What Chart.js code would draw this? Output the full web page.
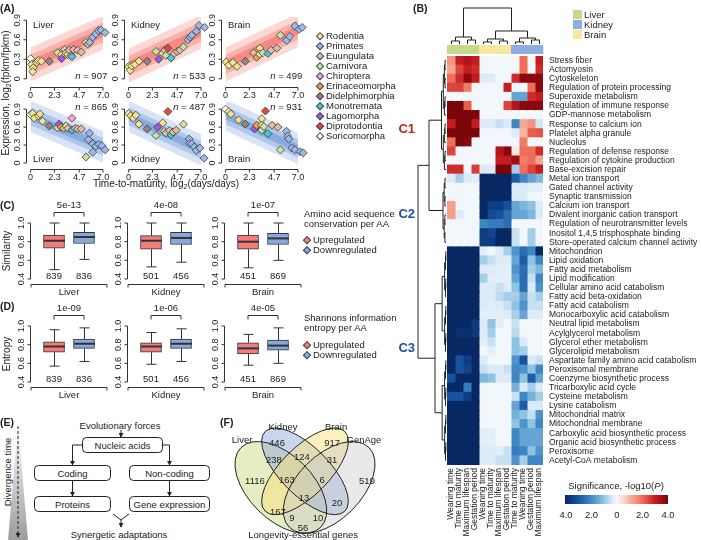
<!DOCTYPE html>
<html>
<head>
<meta charset="utf-8">
<script src="https://cdn.jsdelivr.net/npm/chart.js@4.4.1/dist/chart.umd.min.js"></script>
<style>
  body { margin: 0; width: 701px; height: 540px; position: relative; overflow: hidden; background: #fff;
         font-family: "Liberation Sans", Arial, Helvetica, sans-serif; color: #222; }
  canvas { position: absolute; }
  .t { position: absolute; white-space: nowrap; line-height: 1; font-size: 9.5px; }
  .t sub { font-size: 70%; vertical-align: -2px; line-height: 0; }
  .pl { font-weight: bold; font-size: 10.5px; }
  .dia { position: absolute; width: 3.8px; height: 3.8px; border: 1px solid #444; transform: translate(-50%, -50%) rotate(45deg); }
  svg text { font-family: "Liberation Sans", Arial, Helvetica, sans-serif; font-size: 9.5px; fill: #222; }
</style>
</head>
<body>
<svg style="position:absolute;left:0;top:0" width="216" height="540">
  <defs>
    <linearGradient id="dg" x1="0" y1="0" x2="0" y2="1">
      <stop offset="0" stop-color="#ffffff"/><stop offset="1" stop-color="#9c9c9c"/>
    </linearGradient>
    <marker id="ah" viewBox="0 0 6 6" refX="5" refY="3" markerWidth="5" markerHeight="5" orient="auto">
      <path d="M0,0L6,3L0,6z" fill="#222"/>
    </marker>
  </defs>
  <polygon points="18,424 8,540 28,540" fill="url(#dg)"/>
  <line x1="18" y1="426" x2="18" y2="537" stroke="#222" stroke-width="1" stroke-dasharray="3,2" marker-end="url(#ah)"/>
  <text x="7" y="472" transform="rotate(-90 7 472)" text-anchor="middle" dominant-baseline="central">Divergence time</text>
  <g stroke="#222" stroke-width="1" fill="none">
    <line x1="121" y1="430" x2="121" y2="437" marker-end="url(#ah)"/>
    <rect x="82.5" y="437.5" width="80" height="15" rx="4" fill="#fff"/>
    <polyline points="82,445 72.5,445 72.5,465" marker-end="url(#ah)"/>
    <polyline points="163,445 169.5,445 169.5,465" marker-end="url(#ah)"/>
    <rect x="34.5" y="465.5" width="76" height="15" rx="4" fill="#fff"/>
    <rect x="129.5" y="465.5" width="80" height="15" rx="4" fill="#fff"/>
    <line x1="72.5" y1="481" x2="72.5" y2="496" marker-end="url(#ah)"/>
    <line x1="169.5" y1="481" x2="169.5" y2="496" marker-end="url(#ah)"/>
    <rect x="34.5" y="496.5" width="76" height="15" rx="4" fill="#fff"/>
    <rect x="129.5" y="496.5" width="80" height="15" rx="4" fill="#fff"/>
    <polyline points="113,514 121,520 129,514"/>
    <line x1="121" y1="520" x2="121" y2="527" marker-end="url(#ah)"/>
  </g>
  <g text-anchor="middle" dominant-baseline="central">
    <text x="120" y="425">Evolutionary forces</text>
    <text x="122.5" y="445">Nucleic acids</text>
    <text x="72.5" y="473">Coding</text>
    <text x="169.5" y="473">Non-coding</text>
    <text x="72.5" y="504">Proteins</text>
    <text x="169.5" y="504">Gene expression</text>
    <text x="119" y="534">Synergetic adaptations</text>
  </g>
</svg>
<script>
// ---------- data ----------
var speciesGroups = ['Rodentia', 'Primates', 'Euungulata', 'Carnivora', 'Chiroptera', 'Erinaceomorpha',
  'Didelphimorphia', 'Monotremata', 'Lagomorpha', 'Diprotodontia', 'Soricomorpha'];
var groupColors = ['#f3e48e', '#9db8ea', '#dcbca4', '#c8e2a2', '#f2a6cf', '#f29a4a',
  '#958585', '#45c6e2', '#a457e6', '#e04848', '#ffffff'];

var timeTicks = [0, 2.3, 4.7, 7.0];
var timeTickLabels = ['0', '2.3', '4.7', '7.0'];
var exprTicks = [0, 0.3, 0.6, 0.9];
var exprTickLabels = ['0', '0.3', '0.6', '0.9'];

var liverUpX = [0, 0.1, 0.25, 0.2, 0.6, 0.75, 1.05, 1.8, 2.6, 3.0, 3.0, 3.3, 3.4, 3.6, 3.75, 3.9, 4.0, 4.15, 4.55, 4.9, 5.35, 5.55, 5.7, 6.0, 6.3, 6.55, 6.8, 7.2];
var liverUpY = [0.31, 0.22, 0.17, 0.11, 0.25, 0.28, 0.27, 0.27, 0.40, 0.37, 0.31, 0.45, 0.40, 0.37, 0.44, 0.36, 0.34, 0.45, 0.44, 0.41, 0.56, 0.53, 0.56, 0.64, 0.69, 0.74, 0.75, 0.71];
var liverUpG = [10, 0, 0, 0, 0, 0, 0, 6, 3, 0, 8, 3, 2, 0, 2, 5, 7, 4, 2, 2, 3, 2, 1, 1, 1, 1, 1, 1];

var kidneyUpX = [0, 0.15, 0.3, 0.6, 1.0, 1.8, 2.65, 2.9, 3.3, 3.5, 3.8, 3.6, 4.1, 4.4, 4.7, 4.95, 5.3, 5.75, 5.95, 6.1, 6.55, 6.8, 7.35];
var kidneyUpY = [0.19, 0.13, 0.20, 0.22, 0.27, 0.27, 0.42, 0.30, 0.39, 0.44, 0.47, 0.36, 0.32, 0.39, 0.42, 0.44, 0.49, 0.60, 0.64, 0.67, 0.73, 0.82, 0.79];
var kidneyUpG = [0, 0, 0, 0, 0, 6, 3, 8, 0, 2, 9, 3, 7, 2, 2, 2, 3, 1, 1, 1, 1, 1, 1];

var brainUpX = [0.05, 0.3, 0.7, 1.1, 1.9, 2.7, 3.0, 3.3, 3.3, 3.6, 4.1, 4.4, 4.95, 5.3, 5.9, 6.2, 6.7, 7.1, 7.4];
var brainUpY = [0.26, 0.21, 0.25, 0.19, 0.27, 0.40, 0.33, 0.47, 0.38, 0.40, 0.39, 0.44, 0.47, 0.67, 0.59, 0.65, 0.81, 0.76, 0.79];
var brainUpG = [0, 0, 0, 0, 6, 2, 5, 0, 0, 3, 7, 2, 2, 3, 1, 1, 1, 1, 1];

var liverDownX = [0, 0.2, 0.35, 0.75, 0.9, 1.15, 1.8, 2.6, 2.75, 2.95, 3.2, 3.45, 3.6, 4.0, 4.0, 4.3, 4.55, 4.9, 5.35, 5.6, 5.7, 6.0, 6.0, 6.3, 6.6, 6.9, 7.2];
var liverDownY = [0.81, 0.83, 0.75, 0.79, 0.82, 0.70, 0.62, 0.59, 0.65, 0.60, 0.58, 0.62, 0.58, 0.75, 0.55, 0.58, 0.57, 0.57, 0.10, 0.39, 0.50, 0.32, 0.18, 0.28, 0.31, 0.29, 0.22];
var liverDownG = [10, 0, 0, 0, 0, 0, 6, 3, 8, 5, 2, 0, 2, 4, 7, 2, 2, 2, 3, 1, 1, 1, 1, 1, 1, 1, 1];

var kidneyDownX = [0, 0.2, 0.45, 0.7, 1.0, 1.8, 2.65, 2.8, 3.3, 3.45, 3.6, 3.8, 3.95, 4.1, 4.3, 4.6, 5.3, 5.85, 5.9, 6.1, 6.35, 6.55, 6.9, 7.3];
var kidneyDownY = [0.83, 0.79, 0.75, 0.80, 0.65, 0.57, 0.46, 0.60, 0.67, 0.53, 0.50, 0.86, 0.54, 0.47, 0.52, 0.55, 0.65, 0.40, 0.33, 0.32, 0.27, 0.21, 0.25, 0.08];
var kidneyDownG = [0, 0, 0, 0, 0, 6, 3, 8, 0, 3, 2, 9, 2, 7, 2, 2, 3, 1, 1, 1, 1, 1, 1, 1];

var brainDownX = [0, 0.3, 0.5, 1.25, 1.9, 2.8, 3.0, 3.5, 3.5, 3.5, 3.85, 3.7, 4.1, 4.5, 5.05, 5.3, 5.9, 6.0, 6.1, 6.4, 6.7, 7.2, 7.5];
var brainDownY = [0.90, 0.86, 0.82, 0.72, 0.65, 0.57, 0.63, 0.74, 0.63, 0.55, 0.87, 0.61, 0.49, 0.63, 0.60, 0.22, 0.53, 0.45, 0.40, 0.25, 0.22, 0.19, 0.17];
var brainDownG = [10, 0, 0, 0, 6, 8, 5, 0, 0, 3, 9, 3, 7, 2, 2, 3, 1, 1, 1, 1, 1, 1, 1];

var panelTissues = ['Liver', 'Kidney', 'Brain', 'Liver', 'Kidney', 'Brain'];
var nGenes = [907, 533, 499, 865, 487, 931];
var trendStart = [0.22, 0.20, 0.22, 0.78, 0.78, 0.80];
var trendEnd = [0.71, 0.72, 0.75, 0.27, 0.22, 0.24];

// boxplots: [min, q1, median, q3, max] for Liver, Kidney, Brain
var tissues = ['Liver', 'Kidney', 'Brain'];
var simUp = [[0.50, 0.73, 0.81, 0.87, 1.0], [0.53, 0.72, 0.81, 0.865, 1.0], [0.52, 0.72, 0.80, 0.87, 1.0]];
var simDown = [[0.61, 0.78, 0.85, 0.90, 1.0], [0.58, 0.77, 0.84, 0.90, 1.0], [0.60, 0.77, 0.835, 0.89, 1.0]];
var entUp = [[0.57, 0.72, 0.78, 0.83, 0.96], [0.59, 0.72, 0.78, 0.82, 0.93], [0.58, 0.70, 0.76, 0.82, 0.91]];
var entDown = [[0.62, 0.76, 0.81, 0.86, 0.98], [0.62, 0.76, 0.81, 0.86, 0.97], [0.60, 0.74, 0.79, 0.85, 0.98]];
var upCounts = [839, 501, 451];
var downCounts = [836, 456, 869];
var simP = ['5e-13', '4e-08', '1e-07'];
var entP = ['1e-09', '1e-06', '4e-05'];
var boxTicks = [0.4, 0.6, 0.8, 1.0];
var boxTickLabels = ['0.4', '0.6', '0.8', '1.0'];

// heatmap
var traitLabels = ['Weaning time', 'Time to maturity', 'Maximum lifespan', 'Gestation period',
  'Weaning time', 'Time to maturity', 'Maximum lifespan', 'Gestation period',
  'Time to maturity', 'Weaning time', 'Gestation period', 'Maximum lifespan'];
var traitTissue = ['Liver', 'Liver', 'Liver', 'Liver', 'Brain', 'Brain', 'Brain', 'Brain', 'Kidney', 'Kidney', 'Kidney', 'Kidney'];
var termLabels = ['Stress fiber', 'Actomyosin', 'Cytoskeleton', 'Regulation of protein processing', 'Superoxide metabolism',
  'Regulation of immune response', 'GDP-mannose metabolism', 'Response to calcium ion', 'Platelet alpha granule', 'Nucleolus',
  'Regulation of defense response', 'Regulation of cytokine production', 'Base-excision repair',
  'Metal ion transport', 'Gated channel activity', 'Synaptic transmission', 'Calcium ion transport',
  'Divalent inorganic cation transport', 'Regulation of neurotransmitter levels', 'Inositol 1,4,5 trisphosphate binding',
  'Store-operated calcium channel activity',
  'Mitochondrion', 'Lipid oxidation', 'Fatty acid metabolism', 'Lipid modification', 'Cellular amino acid catabolism',
  'Fatty acid beta-oxidation', 'Fatty acid catabolism', 'Monocarboxylic acid catabolism', 'Neutral lipid metabolism',
  'Acylglycerol metabolism', 'Glycerol ether metabolism', 'Glycerolipid metabolism', 'Aspartate family amino acid catabolism',
  'Peroxisomal membrane', 'Coenzyme biosynthetic process', 'Tricarboxylic acid cycle', 'Cysteine metabolism',
  'Lysine catabolism', 'Mitochondrial matrix', 'Mitochondrial membrane', 'Carboxylic acid biosynthetic process',
  'Organic acid biosynthetic process', 'Peroxisome', 'Acetyl-CoA metabolism'];
var significance = [
  [1.5, 3, 3.3, 3, 0, 0, 0, 0, 0, 2, 0, 3],
  [1.2, 2.5, 3, 2.8, 0, 0, 0, 0, 0, 2, 0, 2.8],
  [2, 2.8, 3.8, 3, -0.3, -0.3, 0, 0, 2.8, 3.8, 3.8, 3.8],
  [2.5, 2.5, 1.8, 0, 0, 0, 0, 3, 0, 0, 2, 3.8],
  [0, 0, 0, 0, 0, 0, 0, 0, -1.5, -1.5, 2.8, 3],
  [4, 4, 2.2, 0, 0, 0, 0, 2.5, 3.2, 3.8, 3.8, 3.8],
  [4, 4, 4, 4, 0, 0, 0, 0, 0, 0, 0, 0],
  [3, 4, 4, 3, -0.3, -0.3, -0.5, -0.3, -2, 1.2, 1.5, -0.4],
  [4, 4, 4, 4, 0, 0, 0, 0, -0.3, 1, 2.2, 2.3],
  [2, 4, 3.8, 0, 0, 0, 0, 0, 0, 1.8, 0, 0],
  [2.5, 0, 0, 0, 0, 0, 3.2, 3.8, 0.3, 2, 2, 2.8],
  [0, 0, 0, 0, 0, 0, 3, 3, 3.5, 1.8, 2, 1.2],
  [2.8, 2.8, 0, 2.6, -0.3, -0.3, 4, 4, -0.8, 2, 2.5, 3],
  [-0.3, -0.8, -0.3, -0.2, -4, -4, -4, -4, -2.8, -2, -1.5, -1.2],
  [0, 0, 0, 0, -4, -4, -4, -4, -0.3, -0.3, -0.2, -0.2],
  [0, 0, 0, 0, -4, -4, -4, -4, -0.3, -0.3, 0, 0],
  [1.3, 0, 0, 0, -4, -3.5, -3.5, -3, -1.5, -1.2, -1, -0.3],
  [1.3, -0.3, 0, 0, -4, -3.2, -3, -2.5, -1.5, -1.5, -1.2, -0.3],
  [0, 0, 0, 0, -2, -2.2, -2.2, -2.5, 0, 0, 0, 0],
  [0, 0, 0, 0, -3.5, -3.3, -4, -4, -0.5, 0, -0.8, 0],
  [0, 0, 0, 0, -3.5, -3.5, -4, -4, -0.5, 0, -0.8, 0],
  [-4, -4, -4, -4, -0.2, 0, -0.3, -0.8, -1.8, -2.5, -2, -4],
  [-4, -4, -4, -4, -0.8, -0.5, -0.3, -0.3, -1.5, -2.8, -1, -2],
  [-4, -4, -4, -4, -0.3, -0.3, -0.2, -0.2, -1.8, -2.5, -0.8, -1.2],
  [-4, -4, -4, -4, -0.8, -0.2, -0.2, -0.2, -1.5, -2.5, -0.5, -2],
  [-4, -4, -4, -4, -0.3, -0.3, -0.5, -0.3, -1, -2.5, -0.3, -1.8],
  [-4, -4, -4, -4, -0.3, -0.3, -0.6, -0.8, -0.8, -1.5, -0.5, -0.8],
  [-4, -4, -4, -4, -0.3, -0.2, -0.3, -0.5, -1, -1.8, -0.5, -0.5],
  [-4, -4, -4, -4, -0.2, -0.2, -0.2, -0.3, -0.8, -1.5, -0.3, -0.3],
  [-4, -4, -4, -3.6, -0.3, -1, -0.2, 0, -0.5, 0, 0, 0],
  [-4, -3.8, -3.8, -3.6, -0.3, -0.8, 0, 0, -0.6, 0, 0, 0],
  [-4, -4, -4, -4, -0.2, -0.5, 0, 0, -1, -0.3, 0, 0],
  [-4, -4, -4, -4, 0, -0.2, 0, 0, -1, -0.8, 0, 0],
  [-4, -3, -3.5, -4, -0.3, 0, 0, 0, -1.8, -3, -0.3, -0.5],
  [-4, -3, -3.3, -4, -0.5, -0.3, -0.3, -0.5, -2, -1.8, -1, -2],
  [-3, -4, -4, -4, -1.2, -1, -0.3, -0.3, -2, -1, -2.8, -1.5],
  [-4, -4, -2.2, -4, 0, 0, 0, 0, -1.3, -0.3, -0.8, -0.3],
  [-3, -3, -3.5, -4, 0, 0, 0, 0, -0.5, -2, -1.3, -0.8],
  [-4, -4, -4, -4, 0, 0, 0, 0, -1.5, -2.8, -0.3, -0.3],
  [-4, -4, -4, -4, 0, 0, 0, 0, -1.3, -1, -0.5, -1.8],
  [-4, -4, -4, -4, 0, 0, 0, 0, -1, -1.8, -1, -2],
  [-4, -4, -4, -4, -0.2, -0.2, 0, 0, -2, -1.5, -1.5, -1.5],
  [-4, -4, -4, -4, -0.2, -0.2, 0, 0, -2, -1.5, -1.5, -1.5],
  [-4, -4, -4, -4, -0.3, -0.3, -0.2, -0.5, -2.2, -2, -1, -1.8],
  [-4, -4, -4, -4, -0.3, -0.3, -0.5, -0.5, -1.8, -0.8, -2, -2]
];
var clusterNames = ['C1', 'C2', 'C3'];
var clusterSizes = [13, 8, 24];

// venn
var vennSets = ['Liver', 'Kidney', 'Brain', 'GenAge'];
var vennCounts = [446, 917, 238, 124, 31, 1116, 163, 6, 519, 13, 20, 167, 9, 10, 56];

// ---------- styles / layout ----------
var FONT = '"Liberation Sans", Arial, Helvetica, sans-serif';
Chart.defaults.font.family = FONT;
Chart.defaults.color = '#222';

var tissueColors = { Liver: '#c6d98a', Kidney: '#8eaee0', Brain: '#f6e6a0' };
var upColor = '#f27c7c', downColor = '#86a8dc';
var sigStops = [
  [-4, [8, 40, 100]], [-3, [22, 82, 158]], [-2, [62, 135, 196]], [-1, [142, 195, 226]],
  [-0.4, [212, 231, 245]], [0, [242, 247, 251]], [0.4, [250, 226, 219]], [1, [247, 181, 163]],
  [2, [238, 110, 88]], [3, [196, 28, 32]], [4, [122, 6, 10]]
];
function sigColor(v) {
  v = Math.max(-4, Math.min(4, v));
  for (var i = 1; i < sigStops.length; i++) {
    if (v <= sigStops[i][0]) {
      var a = sigStops[i - 1], b = sigStops[i], t = (v - a[0]) / (b[0] - a[0]);
      return 'rgb(' + [0, 1, 2].map(function (k) { return Math.round(a[1][k] + t * (b[1][k] - a[1][k])); }).join(',') + ')';
    }
  }
  return 'rgb(122,6,10)';
}

function makeCanvas(area, m) {
  var c = document.createElement('canvas');
  var w = area.r - area.l + m[0] + m[2], h = area.b - area.t + m[1] + m[3];
  c.width = w; c.height = h;
  c.style.left = (area.l - m[0]) + 'px'; c.style.top = (area.t - m[1]) + 'px';
  c.style.width = w + 'px'; c.style.height = h + 'px';
  document.body.appendChild(c);
  return c;
}
function baseOptions(m) {
  return {
    responsive: false, animation: false, devicePixelRatio: 1, events: [],
    layout: { padding: { left: m[0], top: m[1], right: m[2], bottom: m[3] } },
    plugins: { legend: { display: false }, tooltip: { enabled: false } }
  };
}
function txt(html, x, y, opt) {
  opt = opt || {};
  var d = document.createElement('div');
  d.className = 't' + (opt.cls ? ' ' + opt.cls : '');
  d.innerHTML = html;
  d.style.left = x + 'px'; d.style.top = y + 'px';
  if (opt.size) d.style.fontSize = opt.size + 'px';
  if (opt.color) d.style.color = opt.color;
  if (opt.bold) d.style.fontWeight = 'bold';
  var tx = opt.align === 'c' ? '-50%' : opt.align === 'r' ? '-100%' : '0';
  d.style.transform = opt.rot ? 'translate(-50%,-50%) rotate(-90deg)' : 'translate(' + tx + ',-50%)';
  document.body.appendChild(d);
  return d;
}
function diamond(x, y, color) {
  var d = document.createElement('div');
  d.className = 'dia';
  d.style.left = x + 'px'; d.style.top = y + 'px'; d.style.background = color;
  document.body.appendChild(d);
}

// R-style detached axes drawn from the chart scales
function rAxes(xCfg, yCfg) {
  return {
    id: 'raxes',
    afterDraw: function (chart) {
      var ctx = chart.ctx, a = chart.chartArea;
      ctx.save();
      ctx.strokeStyle = '#333'; ctx.fillStyle = '#222'; ctx.lineWidth = 1;
      ctx.font = '9px ' + FONT;
      if (xCfg) {
        var sx = chart.scales.x, yy = Math.round(a.bottom + xCfg.gap) + 0.5;
        var px = xCfg.ticks.map(function (t) { return sx.getPixelForValue(t); });
        ctx.beginPath();
        ctx.moveTo(px[0], yy); ctx.lineTo(px[px.length - 1], yy);
        px.forEach(function (p) { ctx.moveTo(p, yy); ctx.lineTo(p, yy + 3); });
        ctx.stroke();
        ctx.textAlign = 'center'; ctx.textBaseline = 'top';
        px.forEach(function (p, i) { ctx.fillText(xCfg.labels[i], p, yy + 4); });
      }
      if (yCfg) {
        var sy = chart.scales.y, xx = Math.round(a.left - yCfg.gap) + 0.5;
        var py = yCfg.ticks.map(function (t) { return sy.getPixelForValue(t); });
        ctx.beginPath();
        ctx.moveTo(xx, py[0]); ctx.lineTo(xx, py[py.length - 1]);
        py.forEach(function (p) { ctx.moveTo(xx, p); ctx.lineTo(xx - 3, p); });
        ctx.stroke();
        ctx.textAlign = 'center'; ctx.textBaseline = 'bottom';
        py.forEach(function (p, i) {
          ctx.save(); ctx.translate(xx - 4, p); ctx.rotate(-Math.PI / 2);
          ctx.fillText(yCfg.labels[i], 0, 0); ctx.restore();
        });
      }
      ctx.restore();
    }
  };
}

// ---------- panel A: scatter with trend bands ----------
var panelPoints = [
  [liverUpX, liverUpY, liverUpG], [kidneyUpX, kidneyUpY, kidneyUpG], [brainUpX, brainUpY, brainUpG],
  [liverDownX, liverDownY, liverDownG], [kidneyDownX, kidneyDownY, kidneyDownG], [brainDownX, brainDownY, brainDownG]
];
var colFrames = [{ l: 27, r: 110 }, { l: 125, r: 208 }, { l: 222, r: 305 }];
var rowFrames = [{ t: 17, b: 84, ymin: -0.08, ymax: 0.95 }, { t: 102, b: 166, ymin: -0.05, ymax: 1.02 }];
var bandStyles = [[0.26, '#fcd8d4', '#d8e4f5'], [0.15, '#f8b0aa', '#afc7eb'], [0.07, '#f48a83', '#8aabdd']];

function panelText(k, row) {
  return {
    id: 'ptext',
    afterDraw: function (chart) {
      var ctx = chart.ctx, a = chart.chartArea;
      ctx.save();
      ctx.fillStyle = '#222'; ctx.textBaseline = 'middle';
      ctx.font = '9.5px ' + FONT; ctx.textAlign = 'left';
      var ty = row === 0 ? a.top + 8 : a.bottom - 7;
      ctx.fillText(panelTissues[k], a.left + 6, ty);
      var rest = ' = ' + nGenes[k];
      var wRest = ctx.measureText(rest).width;
      ctx.font = 'italic 9.5px ' + FONT;
      var wN = ctx.measureText('n').width;
      var ny = row === 0 ? a.bottom - 8 : a.top + 5;
      var x0 = a.right - 2 - wRest - wN;
      ctx.fillText('n', x0, ny);
      ctx.font = '9.5px ' + FONT;
      ctx.fillText(rest, x0 + wN, ny);
      ctx.restore();
    }
  };
}

panelPoints.forEach(function (pts, k) {
  var row = k < 3 ? 0 : 1, cf = colFrames[k % 3], rf = rowFrames[row];
  var area = { l: cf.l, r: cf.r, t: rf.t, b: rf.b };
  var m = [24, 6, 4, 16];
  var canvas = makeCanvas(area, m);
  var datasets = [{
    type: 'scatter',
    data: pts[0].map(function (x, i) { return { x: x, y: pts[1][i] }; }),
    pointStyle: 'rectRot', pointRadius: 4,
    pointBackgroundColor: pts[2].map(function (g) { return groupColors[g]; }),
    pointBorderColor: '#3c3c3c', pointBorderWidth: 0.8, clip: false
  }];
  bandStyles.slice().reverse().forEach(function (bs) {
    var w = bs[0], col = row === 0 ? bs[1] : bs[2];
    datasets.push({ type: 'line', data: [{ x: 0, y: trendStart[k] + w }, { x: 7, y: trendEnd[k] + w }],
      fill: '+1', backgroundColor: col, borderWidth: 0, pointRadius: 0 });
    datasets.push({ type: 'line', data: [{ x: 0, y: trendStart[k] - w }, { x: 7, y: trendEnd[k] - w }],
      fill: false, borderWidth: 0, pointRadius: 0 });
  });
  var opts = baseOptions(m);
  opts.scales = {
    x: { type: 'linear', display: false, min: -0.35, max: 7.6 },
    y: { type: 'linear', display: false, min: rf.ymin, max: rf.ymax }
  };
  new Chart(canvas, {
    type: 'scatter',
    data: { datasets: datasets },
    options: opts,
    plugins: [rAxes({ gap: 3, ticks: timeTicks, labels: timeTickLabels }, { gap: 1, ticks: exprTicks, labels: exprTickLabels }), panelText(k, row)]
  });
});

// legend A
speciesGroups.forEach(function (g, i) {
  diamond(320, 36 + i * 10, groupColors[i]);
  txt(g, 326, 36 + i * 10);
});
txt('(A)', 0, 8, { cls: 'pl' });
txt('Expression, log<sub>2</sub>(fpkm/fpkm)', 6, 93, { rot: true, size: 10 });
txt('Time-to-maturity, log<sub>2</sub>(days/days)', 166, 184, { align: 'c', size: 10 });

// ---------- panels C and D: boxplots ----------
var boxCols = [39, 136, 233];
var boxRows = [{ t: 223, b: 279 }, { t: 326, b: 382 }];

function boxPlugin(stats, counts, pval, tissue) {
  return {
    id: 'boxes',
    afterDatasetsDraw: function (chart) {
      var ctx = chart.ctx, xs = chart.scales.x, ys = chart.scales.y, a = chart.chartArea;
      ctx.save();
      ctx.strokeStyle = '#333'; ctx.lineWidth = 1;
      var cxs = [xs.getPixelForValue(0), xs.getPixelForValue(1)];
      stats.forEach(function (s, i) {
        var cx = Math.round(cxs[i]) + 0.5;
        ctx.beginPath();
        ctx.moveTo(cx, ys.getPixelForValue(s[3])); ctx.lineTo(cx, ys.getPixelForValue(s[4]));
        ctx.moveTo(cx, ys.getPixelForValue(s[1])); ctx.lineTo(cx, ys.getPixelForValue(s[0]));
        ctx.moveTo(cx - 5, ys.getPixelForValue(s[4])); ctx.lineTo(cx + 5, ys.getPixelForValue(s[4]));
        ctx.moveTo(cx - 5, ys.getPixelForValue(s[0])); ctx.lineTo(cx + 5, ys.getPixelForValue(s[0]));
        ctx.stroke();
        ctx.beginPath(); ctx.lineWidth = 2;
        ctx.moveTo(cx - 10.5, ys.getPixelForValue(s[2])); ctx.lineTo(cx + 10.5, ys.getPixelForValue(s[2]));
        ctx.stroke(); ctx.lineWidth = 1;
      });
      ctx.fillStyle = '#222'; ctx.font = '9.5px ' + FONT;
      ctx.textAlign = 'center'; ctx.textBaseline = 'middle';
      counts.forEach(function (n, i) { ctx.fillText(String(n), cxs[i], ys.getPixelForValue(0.4) - 3); });
      // significance bracket
      var by = Math.round(a.top - 11) + 0.5;
      ctx.beginPath();
      ctx.moveTo(cxs[0], by + 4); ctx.lineTo(cxs[0], by); ctx.lineTo(cxs[1], by); ctx.lineTo(cxs[1], by + 4);
      ctx.stroke();
      ctx.fillText(pval, (cxs[0] + cxs[1]) / 2, a.top - 18);
      // group axis
      var gy = Math.round(a.bottom + 5) + 0.5, x0 = a.left - 8, x1 = a.left + 68;
      ctx.beginPath();
      ctx.moveTo(x0, gy + 3); ctx.lineTo(x0, gy); ctx.lineTo(x1, gy); ctx.lineTo(x1, gy + 3);
      ctx.stroke();
      ctx.fillText(tissue, (x0 + x1) / 2, a.bottom + 13);
      ctx.restore();
    }
  };
}

[[simUp, simDown, simP], [entUp, entDown, entP]].forEach(function (set, r) {
  tissues.forEach(function (tissue, i) {
    var area = { l: boxCols[i], r: boxCols[i] + 60, t: boxRows[r].t, b: boxRows[r].b };
    var m = [30, 25, 12, 20];
    var canvas = makeCanvas(area, m);
    var up = set[0][i], down = set[1][i];
    var opts = baseOptions(m);
    opts.scales = { x: { display: false, offset: true }, y: { display: false, min: 0.4, max: 1.0 } };
    new Chart(canvas, {
      type: 'bar',
      data: {
        labels: ['Upregulated', 'Downregulated'],
        datasets: [{ data: [[up[1], up[3]], [down[1], down[3]]], backgroundColor: [upColor, downColor],
          borderColor: '#333', borderWidth: 1, borderSkipped: false, barThickness: 21 }]
      },
      options: opts,
      plugins: [rAxes(null, { gap: 9, ticks: boxTicks, labels: boxTickLabels }),
        boxPlugin([up, down], [upCounts[i], downCounts[i]], set[2][i], tissue)]
    });
  });
});
txt('(C)', 0, 205, { cls: 'pl' });
txt('(D)', 0, 306, { cls: 'pl' });
txt('Similarity', 7, 251, { rot: true, size: 10 });
txt('Entropy', 7, 354, { rot: true, size: 10 });
txt('Amino acid sequence', 304, 214);
txt('conservation per AA', 304, 224);
diamond(307, 240, upColor); txt('Upregulated', 313, 240);
diamond(307, 250, downColor); txt('Downregulated', 313, 250);
txt('Shannons information', 304, 318);
txt('entropy per AA', 304, 328);
diamond(307, 345, upColor); txt('Upregulated', 313, 345);
diamond(307, 355, downColor); txt('Downregulated', 313, 355);

// ---------- panel B: heatmap ----------
function subtree(lo, hi, h, decay) {
  if (lo === hi) return lo;
  var mid = Math.floor((lo + hi) / 2);
  return [h, subtree(lo, mid, h * decay, decay), subtree(mid + 1, hi, h * decay, decay)];
}
var rowTree = [28, [17, subtree(0, 12, 4.5, 0.6), subtree(13, 20, 3, 0.6)], subtree(21, 44, 11, 0.35)];
var colTree = [36, [7, [3, 0, 1], [4, 2, 3]], [13, [5, [2, 4, 5], [3, 6, 7]], [6, [2, 8, 9], [4, 10, 11]]]];

function walkTree(ctx, node, leafPos, seg) {
  if (typeof node === 'number') return { p: leafPos(node), h: 0 };
  var l = walkTree(ctx, node[1], leafPos, seg), r = walkTree(ctx, node[2], leafPos, seg);
  seg(l.p, l.h, l.p, node[0]);
  seg(r.p, r.h, r.p, node[0]);
  seg(l.p, node[0], r.p, node[0]);
  return { p: (l.p + r.p) / 2, h: node[0] };
}

var heatPlugin = {
  id: 'heatextras',
  afterDatasetsDraw: function (chart) {
    var ctx = chart.ctx, xs = chart.scales.x, ys = chart.scales.y, a = chart.chartArea;
    ctx.save();
    // tissue annotation bar
    traitTissue.forEach(function (t, j) {
      var x0 = xs.getPixelForValue(j), x1 = xs.getPixelForValue(j + 1);
      ctx.fillStyle = tissueColors[t];
      ctx.fillRect(x0, a.top - 11, x1 - x0 + 0.3, 9);
    });
    ctx.strokeStyle = '#222'; ctx.lineWidth = 1;
    ctx.beginPath();
    var top0 = a.top - 12;
    walkTree(ctx, colTree, function (j) { return xs.getPixelForValue(j + 0.5); }, function (p1, h1, p2, h2) {
      ctx.moveTo(Math.round(p1) + 0.5, top0 - h1); ctx.lineTo(Math.round(p2) + 0.5, top0 - h2);
    });
    var left0 = a.left - 1;
    walkTree(ctx, rowTree, function (i) { return ys.getPixelForValue(i); }, function (p1, h1, p2, h2) {
      ctx.moveTo(left0 - h1, p1); ctx.lineTo(left0 - h2, p2);
    });
    ctx.stroke();
    ctx.restore();
  }
};

(function () {
  var area = { l: 447, r: 543, t: 56, b: 465 };
  var m = [47, 56, 158, 75];
  var canvas = makeCanvas(area, m);
  var datasets = traitLabels.map(function (lab, j) {
    return {
      data: termLabels.map(function () { return [j, j + 1]; }),
      backgroundColor: significance.map(function (row) { return sigColor(row[j]); }),
      borderWidth: 0, barPercentage: 1, categoryPercentage: 1, grouped: false, inflateAmount: 0.5
    };
  });
  var opts = baseOptions([47, 56, 0, 0]);
  opts.indexAxis = 'y';
  opts.scales = {
    x: {
      type: 'linear', min: 0, max: 12, position: 'bottom',
      grid: { display: false, drawTicks: false }, border: { display: false },
      afterBuildTicks: function (s) { s.ticks = traitLabels.map(function (_, i) { return { value: i + 0.5 }; }); },
      afterFit: function (s) { s.height = 75; s.paddingLeft = 0; s.paddingRight = 0; },
      ticks: { autoSkip: false, minRotation: 90, maxRotation: 90, padding: 3, font: { size: 8.5 }, color: '#222',
        callback: function (v, i) { return traitLabels[i]; } }
    },
    y: {
      position: 'right', grid: { display: false, drawTicks: false }, border: { display: false },
      afterFit: function (s) { s.width = 158; s.paddingTop = 0; s.paddingBottom = 0; },
      ticks: { autoSkip: false, padding: 6, font: { size: 8.5 }, color: '#222' }
    }
  };
  new Chart(canvas, { type: 'bar', data: { labels: termLabels, datasets: datasets }, options: opts, plugins: [heatPlugin] });
})();

txt('(B)', 413, 8, { cls: 'pl' });
var clusterY = [128, 213, 347];
clusterNames.forEach(function (c, i) {
  txt(c, 415, clusterY[i], { align: 'r', size: 13, bold: true, color: i === 0 ? '#c8201e' : '#1f4ea6' });
});
['Liver', 'Kidney', 'Brain'].forEach(function (t, i) {
  var d = document.createElement('div');
  d.style.cssText = 'position:absolute;left:573px;top:' + (10 + i * 10) + 'px;width:9px;height:9px;background:' + tissueColors[t];
  document.body.appendChild(d);
  txt(t, 584, 15 + i * 10, { size: 9.5 });
});
(function () {
  var bar = document.createElement('div');
  var stops = sigStops.map(function (s) { return 'rgb(' + s[1].join(',') + ') ' + ((s[0] + 4) / 8 * 100) + '%'; });
  bar.style.cssText = 'position:absolute;left:565px;top:495px;width:103px;height:9px;background:linear-gradient(to right,' + stops.join(',') + ')';
  document.body.appendChild(bar);
  txt('Significance, -log10(<i>P</i>)', 616, 486, { align: 'c', size: 9.5 });
  ['4.0', '2.0', '0', '2.0', '4.0'].forEach(function (l, i) { txt(l, 566 + i * 25.5, 515, { align: 'c', size: 9.5 }); });
})();

// ---------- panel F: Venn ----------
var vennEllipses = [[0.35, 0.47, 0.35, 0.20, 135], [0.5, 0.57, 0.35, 0.15, 135], [0.5, 0.57, 0.35, 0.15, 45], [0.65, 0.47, 0.35, 0.20, 45]];
var vennFills = ['rgba(200,215,120,0.45)', 'rgba(135,165,222,0.45)', 'rgba(248,226,125,0.5)', 'rgba(200,200,200,0.4)'];
var vennCountSpots = [[0.326, 0.746], [0.668, 0.746], [0.307, 0.640], [0.481, 0.659], [0.668, 0.640], [0.189, 0.510],
  [0.388, 0.516], [0.606, 0.516], [0.885, 0.510], [0.494, 0.404], [0.699, 0.373], [0.332, 0.317], [0.419, 0.280],
  [0.581, 0.280], [0.488, 0.218]];
var vennNameSpots = [[0.109, 0.764], [0.363, 0.845], [0.693, 0.845], [0.866, 0.764]];

(function () {
  var area = { l: 222, r: 400, t: 415, b: 540 };
  var canvas = makeCanvas(area, [0, 0, 0, 0]);
  var opts = baseOptions([0, 0, 0, 0]);
  opts.scales = { x: { type: 'linear', display: false, min: -0.0155, max: 1.09 }, y: { type: 'linear', display: false, min: 0.1433, max: 0.9197 } };
  new Chart(canvas, {
    type: 'scatter',
    data: { datasets: [{ data: vennCountSpots.map(function (s) { return { x: s[0], y: s[1] }; }), pointRadius: 0 }] },
    options: opts,
    plugins: [{
      id: 'venn',
      beforeDatasetsDraw: function (chart) {
        var ctx = chart.ctx, xs = chart.scales.x, ys = chart.scales.y;
        var k = xs.getPixelForValue(1) - xs.getPixelForValue(0);
        ctx.save();
        vennEllipses.forEach(function (e, i) {
          ctx.beginPath();
          ctx.ellipse(xs.getPixelForValue(e[0]), ys.getPixelForValue(e[1]), e[2] * k, e[3] * k, -e[4] * Math.PI / 180, 0, Math.PI * 2);
          ctx.fillStyle = vennFills[i]; ctx.fill();
        });
        ctx.strokeStyle = '#222'; ctx.lineWidth = 1;
        vennEllipses.forEach(function (e) {
          ctx.beginPath();
          ctx.ellipse(xs.getPixelForValue(e[0]), ys.getPixelForValue(e[1]), e[2] * k, e[3] * k, -e[4] * Math.PI / 180, 0, Math.PI * 2);
          ctx.stroke();
        });
        ctx.restore();
      },
      afterDatasetsDraw: function (chart) {
        var ctx = chart.ctx, xs = chart.scales.x, ys = chart.scales.y;
        var meta = chart.getDatasetMeta(0);
        ctx.save();
        ctx.fillStyle = '#222'; ctx.font = '9.5px ' + FONT; ctx.textAlign = 'center'; ctx.textBaseline = 'middle';
        meta.data.forEach(function (pt, i) { ctx.fillText(String(vennCounts[i]), pt.x, pt.y); });
        vennSets.forEach(function (s, i) { ctx.fillText(s, xs.getPixelForValue(vennNameSpots[i][0]), ys.getPixelForValue(vennNameSpots[i][1])); });
        ctx.fillText('Longevity-essential genes', xs.getPixelForValue(0.488), ys.getPixelForValue(0.174));
        ctx.restore();
      }
    }]
  });
})();
txt('(E)', 0, 422, { cls: 'pl' });
txt('(F)', 220, 422, { cls: 'pl' });
</script>
</body>
</html>
